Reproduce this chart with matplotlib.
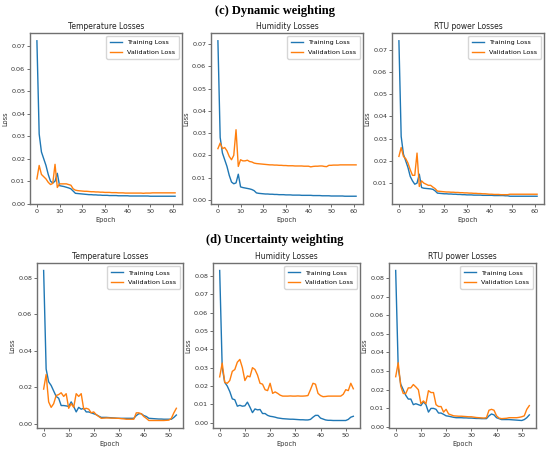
import matplotlib
matplotlib.use("Agg")
import matplotlib.pyplot as plt

# ---------------- data: (c) Dynamic weighting, epochs 0..61 ----------------
epochs_c = list(range(62))
temp_train_c = [0.0725, 0.031, 0.023, 0.020, 0.017, 0.013, 0.010, 0.0092, 0.0100, 0.0135,
                0.0080, 0.0078, 0.0076, 0.0073, 0.0070, 0.0066, 0.0056, 0.0046, 0.0045, 0.0044,
                0.0043, 0.0042, 0.0041, 0.0040, 0.0040, 0.0039, 0.0039, 0.0038, 0.0038, 0.0037,
                0.0037, 0.0037, 0.0036, 0.0036, 0.0036, 0.0036, 0.0035, 0.0035, 0.0035, 0.0035,
                0.0035, 0.0034, 0.0034, 0.0034, 0.0034, 0.0034, 0.0034, 0.0034, 0.0034, 0.0034,
                0.0033, 0.0033, 0.0033, 0.0033, 0.0033, 0.0033, 0.0033, 0.0033, 0.0033, 0.0033,
                0.0033, 0.0033]
temp_val_c = [0.011, 0.017, 0.013, 0.012, 0.011, 0.0095, 0.0085, 0.0090, 0.0175, 0.0072,
              0.0088, 0.0088, 0.0088, 0.0088, 0.0085, 0.0082, 0.0066, 0.0060, 0.0058, 0.0057,
              0.0056, 0.0055, 0.0055, 0.0054, 0.0053, 0.0053, 0.0052, 0.0052, 0.0051, 0.0051,
              0.0050, 0.0050, 0.0050, 0.0049, 0.0049, 0.0049, 0.0048, 0.0048, 0.0048, 0.0047,
              0.0047, 0.0047, 0.0047, 0.0047, 0.0047, 0.0047, 0.0047, 0.0046, 0.0047, 0.0047,
              0.0047, 0.0048, 0.0048, 0.0048, 0.0048, 0.0048, 0.0048, 0.0048, 0.0048, 0.0048,
              0.0048, 0.0048]
hum_train_c = [0.0715, 0.028, 0.021, 0.018, 0.015, 0.011, 0.008, 0.0072, 0.0076, 0.0115,
               0.0058, 0.0055, 0.0053, 0.0051, 0.0049, 0.0046, 0.0041, 0.0031, 0.0029, 0.0028,
               0.0027, 0.0026, 0.0026, 0.0025, 0.0025, 0.0024, 0.0024, 0.0023, 0.0023, 0.0023,
               0.0022, 0.0022, 0.0022, 0.0021, 0.0021, 0.0021, 0.0021, 0.0020, 0.0020, 0.0020,
               0.0020, 0.0020, 0.0019, 0.0019, 0.0019, 0.0019, 0.0018, 0.0018, 0.0018, 0.0018,
               0.0017, 0.0017, 0.0017, 0.0017, 0.0017, 0.0017, 0.0016, 0.0016, 0.0016, 0.0016,
               0.0016, 0.0016]
hum_val_c = [0.023, 0.0255, 0.0230, 0.0235, 0.0220, 0.0195, 0.0180, 0.0200, 0.0315, 0.0150,
             0.0180, 0.0175, 0.0175, 0.0178, 0.0172, 0.0170, 0.0165, 0.0163, 0.0162, 0.0161,
             0.0160, 0.0159, 0.0158, 0.0157, 0.0157, 0.0156, 0.0156, 0.0155, 0.0155, 0.0154,
             0.0154, 0.0153, 0.0153, 0.0153, 0.0152, 0.0152, 0.0152, 0.0152, 0.0151, 0.0151,
             0.0151, 0.0148, 0.0150, 0.0151, 0.0151, 0.0152, 0.0152, 0.0150, 0.0149, 0.0155,
             0.0155, 0.0156, 0.0156, 0.0156, 0.0157, 0.0157, 0.0157, 0.0157, 0.0157, 0.0157,
             0.0157, 0.0157]
rtu_train_c = [0.0740, 0.031, 0.023, 0.020, 0.017, 0.013, 0.011, 0.0095, 0.0100, 0.0140,
               0.0080, 0.0077, 0.0076, 0.0075, 0.0074, 0.0072, 0.0065, 0.0055, 0.0054, 0.0053,
               0.0052, 0.0052, 0.0051, 0.0051, 0.0050, 0.0050, 0.0049, 0.0049, 0.0048, 0.0048,
               0.0047, 0.0047, 0.0047, 0.0046, 0.0046, 0.0046, 0.0046, 0.0045, 0.0045, 0.0045,
               0.0045, 0.0045, 0.0044, 0.0044, 0.0044, 0.0044, 0.0044, 0.0043, 0.0043, 0.0041,
               0.0041, 0.0041, 0.0041, 0.0041, 0.0041, 0.0041, 0.0041, 0.0041, 0.0041, 0.0041,
               0.0041, 0.0041]
rtu_val_c = [0.0220, 0.0260, 0.0220, 0.0210, 0.0190, 0.0160, 0.0135, 0.0135, 0.0235, 0.0085,
             0.0110, 0.0100, 0.0095, 0.0090, 0.0090, 0.0082, 0.0075, 0.0064, 0.0063, 0.0062,
             0.0061, 0.0060, 0.0060, 0.0059, 0.0059, 0.0058, 0.0058, 0.0057, 0.0057, 0.0056,
             0.0056, 0.0055, 0.0055, 0.0054, 0.0054, 0.0053, 0.0053, 0.0052, 0.0052, 0.0051,
             0.0050, 0.0050, 0.0049, 0.0049, 0.0049, 0.0048, 0.0048, 0.0048, 0.0048, 0.0050,
             0.0050, 0.0050, 0.0050, 0.0050, 0.0050, 0.0050, 0.0050, 0.0050, 0.0050, 0.0050,
             0.0050, 0.0050]

# ---------------- data: (d) Uncertainty weighting, epochs 0..53 ----------------
epochs_d = list(range(54))
temp_train_d = [0.084, 0.030, 0.023, 0.021, 0.018, 0.015, 0.014, 0.0100, 0.0100, 0.0098,
                0.0095, 0.0120, 0.0095, 0.0065, 0.0090, 0.0080, 0.0085, 0.0065, 0.0065, 0.0060,
                0.0055, 0.0050, 0.0042, 0.0035, 0.0035, 0.0035, 0.0034, 0.0033, 0.0032, 0.0031,
                0.0030, 0.0030, 0.0030, 0.0030, 0.0030, 0.0030, 0.0030, 0.0045, 0.0055, 0.0055,
                0.0045, 0.0040, 0.0030, 0.0029, 0.0028, 0.0027, 0.0026, 0.0026, 0.0025, 0.0025,
                0.0025, 0.0025, 0.0035, 0.0048]
temp_val_d = [0.019, 0.027, 0.012, 0.009, 0.011, 0.0155, 0.016, 0.017, 0.015, 0.0165,
              0.0085, 0.0110, 0.0090, 0.0165, 0.0150, 0.0165, 0.0080, 0.0085, 0.0080, 0.0060,
              0.0065, 0.0050, 0.0040, 0.0030, 0.0031, 0.0032, 0.0032, 0.0031, 0.0031, 0.0030,
              0.0030, 0.0028, 0.0027, 0.0025, 0.0025, 0.0025, 0.0025, 0.0060, 0.0060, 0.0055,
              0.0040, 0.0030, 0.0018, 0.0018, 0.0018, 0.0018, 0.0018, 0.0018, 0.0018, 0.0019,
              0.0020, 0.0030, 0.0060, 0.0085]
hum_train_d = [0.083, 0.030, 0.022, 0.020, 0.017, 0.013, 0.0125, 0.0090, 0.0095, 0.0090,
               0.0092, 0.0112, 0.0085, 0.0055, 0.0075, 0.0070, 0.0072, 0.0050, 0.0050, 0.0040,
               0.0035, 0.0033, 0.0030, 0.0026, 0.0024, 0.0022, 0.0021, 0.0020, 0.0019, 0.0019,
               0.0018, 0.0017, 0.0016, 0.0016, 0.0015, 0.0015, 0.0018, 0.0030, 0.0040, 0.0040,
               0.0025, 0.0020, 0.0015, 0.0013, 0.0013, 0.0012, 0.0012, 0.0012, 0.0012, 0.0012,
               0.0012, 0.0018, 0.0030, 0.0035]
hum_val_d = [0.0250, 0.0325, 0.0220, 0.0215, 0.0230, 0.0280, 0.0290, 0.0330, 0.0345, 0.0300,
             0.0230, 0.0255, 0.0250, 0.0300, 0.0290, 0.0260, 0.0215, 0.0210, 0.0180, 0.0175,
             0.0215, 0.0160, 0.0168, 0.0160, 0.0150, 0.0145, 0.0145, 0.0145, 0.0146, 0.0145,
             0.0145, 0.0146, 0.0145, 0.0145, 0.0146, 0.0148, 0.0180, 0.0215, 0.0210, 0.0160,
             0.0148, 0.0142, 0.0143, 0.0145, 0.0145, 0.0145, 0.0145, 0.0145, 0.0145, 0.0155,
             0.0180, 0.0175, 0.0215, 0.0185]
rtu_train_d = [0.084, 0.032, 0.023, 0.020, 0.017, 0.015, 0.015, 0.0120, 0.0125, 0.0120,
               0.0115, 0.0135, 0.0120, 0.0080, 0.0100, 0.0100, 0.0095, 0.0075, 0.0075, 0.0068,
               0.0060, 0.0058, 0.0055, 0.0052, 0.0050, 0.0050, 0.0050, 0.0049, 0.0049, 0.0048,
               0.0048, 0.0047, 0.0046, 0.0046, 0.0045, 0.0045, 0.0045, 0.0060, 0.0070, 0.0065,
               0.0050, 0.0045, 0.0040, 0.0040, 0.0040, 0.0040, 0.0039, 0.0038, 0.0037, 0.0036,
               0.0035, 0.0040, 0.0050, 0.0065]
rtu_val_d = [0.0270, 0.0345, 0.0220, 0.0180, 0.0180, 0.0210, 0.0210, 0.0228, 0.0215, 0.0200,
             0.0125, 0.0140, 0.0125, 0.0195, 0.0185, 0.0185, 0.0120, 0.0110, 0.0110, 0.0080,
             0.0095, 0.0070, 0.0065, 0.0060, 0.0059, 0.0058, 0.0058, 0.0057, 0.0056, 0.0055,
             0.0055, 0.0053, 0.0051, 0.0050, 0.0049, 0.0048, 0.0050, 0.0090, 0.0095, 0.0090,
             0.0060, 0.0048, 0.0045, 0.0046, 0.0047, 0.0050, 0.0050, 0.0050, 0.0050, 0.0052,
             0.0055, 0.0060, 0.0095, 0.0115]

panel_titles = ["Temperature Losses", "Humidity Losses", "RTU power Losses"]
section_titles = ["(c) Dynamic weighting", "(d) Uncertainty weighting"]

W, H = 550, 453
fig = plt.figure(figsize=(W / 100, H / 100), dpi=100)
fig.patch.set_facecolor("white")


def px_axes(l, r, t, b):
    return fig.add_axes([l / W, (H - b) / H, (r - l) / W, (b - t) / H])


top_boxes = [(30, 182, 33, 204), (211, 363, 33, 204), (392, 544, 33, 204)]
bot_boxes = [(37, 183, 263, 428), (213, 360, 263, 428), (389, 536, 263, 428)]

rows = [
    (top_boxes, epochs_c, [(temp_train_c, temp_val_c), (hum_train_c, hum_val_c), (rtu_train_c, rtu_val_c)]),
    (bot_boxes, epochs_d, [(temp_train_d, temp_val_d), (hum_train_d, hum_val_d), (rtu_train_d, rtu_val_d)]),
]

for ri, (boxes, ep, series) in enumerate(rows):
    for ci, (box, (tr, va)) in enumerate(zip(boxes, series)):
        ax = px_axes(*box)
        ax.plot(ep, tr, color="#1f77b4", lw=1.0, label="Training Loss")
        ax.plot(ep, va, color="#ff7f0e", lw=1.0, label="Validation Loss")
        ax.set_title(panel_titles[ci], fontsize=5.5, pad=3, color="#222222")
        ax.set_xlabel("Epoch", fontsize=4.8, labelpad=2, color="#333333")
        ax.set_ylabel("Loss", fontsize=4.8, labelpad=2, color="#333333")
        ax.tick_params(labelsize=4.6, length=2, width=0.5, pad=1.5, colors="#333333")
        for s in ax.spines.values():
            s.set_color("#707070")
            s.set_linewidth(1.0)
        if ri == 1 and ci == 2:
            ax.set_yticks([0.00, 0.01, 0.02, 0.03, 0.04, 0.05, 0.06, 0.07, 0.08])
        ax.legend(loc="upper right", fontsize=4.6, frameon=True, handlelength=1.8,
                  borderpad=0.6, labelspacing=0.6, framealpha=0.8, edgecolor="#cccccc")

fig.text(275 / W, 1 - 11 / H, section_titles[0], ha="center", va="center",
         fontsize=9, fontweight="bold", family="Liberation Serif")
fig.text(275 / W, 1 - 240 / H, section_titles[1], ha="center", va="center",
         fontsize=9, fontweight="bold", family="Liberation Serif")

fig.savefig("out.png", dpi=100, facecolor="white")
